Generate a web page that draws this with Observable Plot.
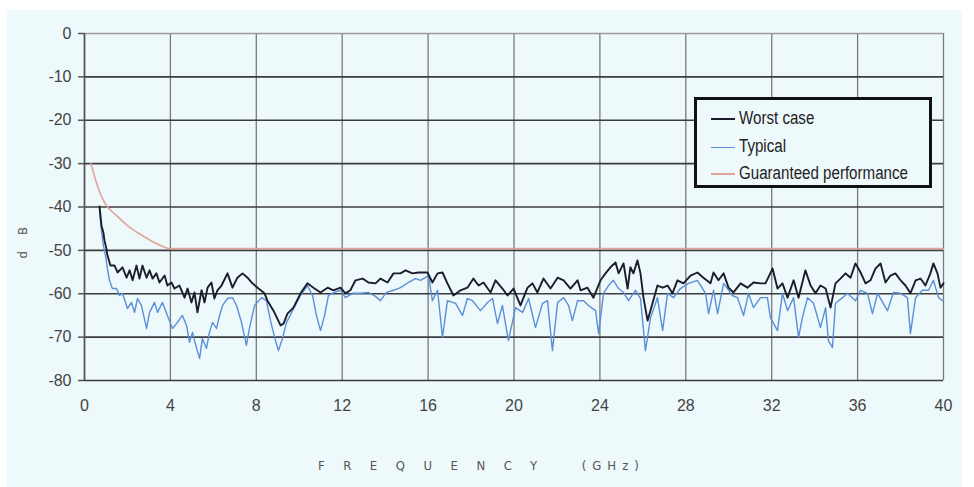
<!DOCTYPE html>
<html>
<head>
<meta charset="utf-8">
<script src="https://cdn.jsdelivr.net/npm/d3@7"></script>
<script src="https://cdn.jsdelivr.net/npm/@observablehq/plot@0.6"></script>
<style>
  html, body { margin: 0; padding: 0; background: #ffffff; }
  #wrap { position: relative; width: 974px; height: 487px; overflow: hidden; background: #ffffff; }
  #panel { position: absolute; left: 7px; top: 10px; width: 955px; height: 477px; background: #eef9fc; }
  #chart { position: absolute; left: 0; top: 0; }
  #legend {
    position: absolute; left: 694px; top: 97px; width: 232px; height: 85px;
    border: 3px solid #111; background: #eef9fc;
    font-family: "Liberation Sans", Arial, sans-serif; font-size: 18px; color: #222;
  }
  .item { position: absolute; left: 14px; height: 22px; line-height: 22px; white-space: nowrap; }
  .item .sw { display: inline-block; width: 24px; height: 0; vertical-align: middle; margin-right: 4px; }
  .item .t { display: inline-block; transform: scaleX(0.84); transform-origin: left center; }
  #xlabel {
    position: absolute; left: 318px; top: 458px; font-family: "DejaVu Sans Condensed", "Liberation Sans", sans-serif;
    font-size: 13px; color: #555; white-space: nowrap;
  }
  #xlabel .w { letter-spacing: 18.5px; }
  #xlabel .u { letter-spacing: 6px; margin-left: 26px; }
  #ylabel {
    position: absolute; left: 14px; top: 231px; width: 40px; text-align: center;
    font-family: "DejaVu Sans Condensed", "Liberation Sans", sans-serif; font-size: 13px; color: #555;
    transform: translate(-12px, 0) rotate(-90deg); letter-spacing: 16px; white-space: nowrap;
  }
</style>
</head>
<body>
<div id="wrap">
  <div id="panel"></div>
  <div id="chart"></div>
  <div id="legend">
    <div class="item" style="top:7px"><span class="sw" style="border-top:2px solid #1b1d2b"></span><span class="t">Worst case</span></div>
    <div class="item" style="top:35px"><span class="sw" style="border-top:1.5px solid #5a8fd8"></span><span class="t">Typical</span></div>
    <div class="item" style="top:62px"><span class="sw" style="border-top:2px solid #e0a49c"></span><span class="t">Guaranteed performance</span></div>
  </div>
  <div id="xlabel"><span class="w">FREQUENCY</span><span class="u">(GHz)</span></div>
  <div id="ylabel">dB</div>
</div>
<script>
// Axis ticks
const xTicks = [0, 4, 8, 12, 16, 20, 24, 28, 32, 36, 40];
const yTicks = [0, -10, -20, -30, -40, -50, -60, -70, -80];

// Worst case (GHz, dB)
const worstX = [0.70,0.79,0.88,0.93,1.02,1.07,1.21,1.40,1.54,1.77,1.96,2.10,2.24,2.42,2.56,2.70,2.89,3.03,3.17,3.35,3.49,3.73,3.86,4.05,4.19,4.42,4.66,4.80,4.98,5.12,5.26,5.45,5.59,5.73,5.91,6.05,6.19,6.38,6.66,6.89,7.12,7.36,7.59,7.82,8.06,8.38,8.52,8.80,9.13,9.27,9.45,9.73,10.06,10.38,10.66,10.99,11.32,11.59,11.92,12.15,12.38,12.62,12.95,13.22,13.55,13.78,14.11,14.39,14.71,14.95,15.27,15.55,15.97,16.20,16.44,16.67,16.90,17.18,17.51,17.83,18.11,18.35,18.58,18.91,19.14,19.46,19.70,19.98,20.30,20.63,20.86,21.09,21.37,21.70,22.03,22.31,22.63,22.96,23.10,23.42,23.70,24.03,24.26,24.49,24.73,24.87,25.10,25.29,25.42,25.56,25.75,25.89,26.03,26.22,26.45,26.68,26.92,27.15,27.38,27.61,27.89,28.22,28.54,28.82,29.15,29.29,29.52,29.76,29.99,30.22,30.55,30.87,31.15,31.48,31.71,32.04,32.27,32.50,32.74,33.02,33.25,33.57,33.81,34.04,34.27,34.51,34.74,34.97,35.20,35.44,35.67,35.90,36.14,36.37,36.60,36.83,37.07,37.30,37.53,37.76,38.00,38.23,38.46,38.70,38.93,39.16,39.39,39.53,39.72,39.86,40.00];
const worstDb = [-39.9,-44.3,-45.9,-47.7,-49.6,-51.2,-53.5,-53.5,-55.1,-53.9,-56.3,-54.6,-56.9,-53.5,-56.5,-53.5,-56.3,-54.6,-56.5,-55.3,-57.4,-55.8,-58.1,-57.4,-58.8,-58.1,-60.9,-58.8,-62.0,-59.7,-64.3,-59.2,-62.0,-58.6,-57.4,-61.1,-59.2,-58.1,-55.3,-58.6,-56.3,-55.3,-56.3,-57.6,-58.6,-59.9,-61.6,-63.9,-67.3,-66.9,-64.6,-63.2,-59.9,-57.6,-58.6,-59.7,-58.6,-59.2,-58.6,-59.9,-59.2,-56.9,-56.5,-57.4,-57.6,-56.5,-57.4,-55.3,-55.3,-54.6,-55.3,-55.1,-55.1,-57.4,-55.3,-55.1,-57.6,-60.4,-59.2,-58.6,-56.5,-58.1,-57.4,-59.7,-56.9,-58.8,-60.4,-58.8,-62.7,-58.6,-57.6,-59.7,-56.5,-58.8,-56.3,-56.9,-58.8,-56.9,-59.2,-58.6,-60.9,-56.9,-55.3,-53.9,-52.8,-55.3,-53.0,-58.8,-53.9,-55.3,-52.3,-55.3,-60.9,-66.2,-62.2,-58.1,-58.6,-58.1,-59.9,-56.9,-57.6,-55.8,-55.1,-56.3,-57.6,-55.1,-56.9,-55.3,-58.6,-59.7,-57.6,-58.6,-57.4,-57.6,-57.6,-54.2,-58.8,-57.6,-60.9,-56.9,-60.9,-54.6,-58.1,-59.9,-58.1,-58.8,-63.2,-57.6,-56.5,-55.3,-56.3,-53.0,-55.1,-57.6,-56.9,-54.2,-53.0,-57.4,-55.8,-55.3,-56.9,-58.1,-59.9,-56.9,-56.5,-58.1,-55.3,-53.0,-55.3,-58.6,-57.6];

// Typical (GHz, dB)
const typicalX = [0.70,0.79,0.88,0.98,1.07,1.16,1.30,1.49,1.63,1.77,2.00,2.19,2.33,2.47,2.65,2.89,3.03,3.26,3.40,3.63,3.86,4.10,4.33,4.56,4.75,4.89,5.03,5.22,5.36,5.49,5.68,5.82,5.96,6.15,6.29,6.43,6.66,6.89,7.08,7.31,7.54,7.68,7.92,8.24,8.47,8.66,8.89,9.03,9.22,9.41,9.69,10.06,10.38,10.62,10.80,10.99,11.18,11.36,11.64,11.92,12.15,12.48,12.85,13.22,13.55,13.78,14.06,14.39,14.71,15.09,15.41,15.65,16.02,16.20,16.44,16.67,16.90,17.28,17.60,17.83,18.07,18.44,18.77,19.00,19.23,19.46,19.74,20.07,20.40,20.68,21.00,21.33,21.56,21.79,22.03,22.31,22.54,22.72,22.96,23.24,23.47,23.80,23.94,24.17,24.40,24.63,24.87,25.10,25.33,25.66,25.89,26.12,26.36,26.68,26.92,27.15,27.43,27.75,28.13,28.54,28.92,29.06,29.29,29.48,29.76,30.17,30.41,30.69,30.92,31.15,31.48,31.80,31.94,32.27,32.50,32.74,33.02,33.25,33.43,33.67,33.95,34.27,34.51,34.64,34.83,34.97,35.30,35.53,35.90,36.14,36.46,36.69,36.93,37.39,37.67,38.00,38.32,38.46,38.70,39.02,39.30,39.53,39.77,39.95];
const typicalDb = [-40.8,-45.4,-48.9,-51.2,-54.2,-56.9,-58.8,-58.8,-60.4,-59.9,-63.4,-62.0,-64.3,-61.1,-62.7,-68.0,-64.3,-62.0,-64.3,-62.0,-65.0,-68.0,-66.6,-65.0,-67.3,-71.2,-68.9,-72.6,-74.9,-70.3,-72.6,-68.9,-66.6,-68.0,-65.0,-62.7,-61.1,-60.9,-62.7,-66.6,-71.9,-68.0,-62.7,-60.9,-61.6,-66.2,-70.8,-73.1,-70.3,-66.6,-63.9,-60.4,-58.1,-60.4,-65.0,-68.5,-65.0,-60.4,-59.7,-59.2,-60.9,-59.9,-59.9,-59.7,-60.6,-61.6,-59.7,-59.2,-58.6,-57.4,-56.5,-56.9,-55.8,-61.6,-59.2,-70.1,-61.6,-62.2,-65.0,-61.1,-61.6,-63.9,-62.0,-61.1,-66.9,-62.7,-70.8,-63.2,-64.3,-61.1,-67.8,-62.2,-61.6,-73.1,-62.0,-60.9,-62.7,-66.2,-61.6,-61.6,-62.7,-63.9,-69.2,-59.9,-58.1,-56.9,-58.8,-59.7,-61.6,-59.2,-61.1,-73.1,-65.5,-60.9,-68.5,-59.9,-60.9,-58.8,-57.6,-56.9,-59.9,-64.6,-59.2,-64.6,-57.6,-60.4,-60.9,-65.0,-59.9,-63.2,-60.9,-60.9,-65.5,-68.5,-59.9,-63.9,-60.9,-70.1,-65.5,-60.9,-62.2,-67.8,-63.2,-70.8,-72.4,-62.2,-60.9,-59.9,-61.6,-59.2,-59.9,-64.6,-59.9,-63.9,-59.7,-59.9,-60.9,-69.2,-60.9,-59.2,-59.2,-56.9,-60.9,-61.6];

// Guaranteed performance (GHz, dB)
const guarX = [0.3, 0.5, 0.7, 1.0, 1.5, 2.0, 2.5, 3.0, 3.5, 4.0, 40];
const guarDb = [-30, -33.5, -36.5, -39.5, -42, -44.3, -46, -47.5, -48.8, -49.6, -49.6];

const toRows = (xs, ys) => xs.map((x, i) => ({x, y: ys[i]}));
const worst = toRows(worstX, worstDb);
const typical = toRows(typicalX, typicalDb);
const guaranteed = toRows(guarX, guarDb);

const chart = Plot.plot({
  width: 974,
  height: 487,
  marginLeft: 84,
  marginRight: 31,
  marginTop: 33,
  marginBottom: 107,
  style: {background: "transparent", fontFamily: "'Liberation Sans', Arial, sans-serif", fontSize: "16px", color: "#444"},
  x: {domain: [0, 40], ticks: xTicks},
  y: {domain: [-80, 0], ticks: yTicks},
  marks: [
    Plot.gridX(xTicks, {stroke: "#7a7a7a", strokeOpacity: 1, strokeWidth: 1.3}),
    Plot.gridY(yTicks.filter(d => d !== 0), {stroke: "#3c3c3c", strokeOpacity: 1, strokeWidth: 1.6}),
    Plot.ruleY([0], {stroke: "#9a9a9a", strokeWidth: 1.3}),
    Plot.ruleX([0], {stroke: "#555", strokeWidth: 1.6}),
    Plot.axisY(yTicks, {tickSize: 6, tickPadding: 7, stroke: "#555", strokeWidth: 1.5, fill: "#444", label: null, tickFormat: d => String(d)}),
    Plot.axisX(xTicks, {tickSize: 0, tickPadding: 19, fill: "#444", label: null, tickFormat: d => String(d)}),
    Plot.line(guaranteed, {x: "x", y: "y", stroke: "#e0a49c", strokeWidth: 1.6, curve: "monotone-x"}),
    Plot.line(typical, {x: "x", y: "y", stroke: "#5a8fd8", strokeWidth: 1.4}),
    Plot.line(worst, {x: "x", y: "y", stroke: "#1b1d2b", strokeWidth: 1.9})
  ]
});
document.getElementById("chart").appendChild(chart);
</script>
</body>
</html>
